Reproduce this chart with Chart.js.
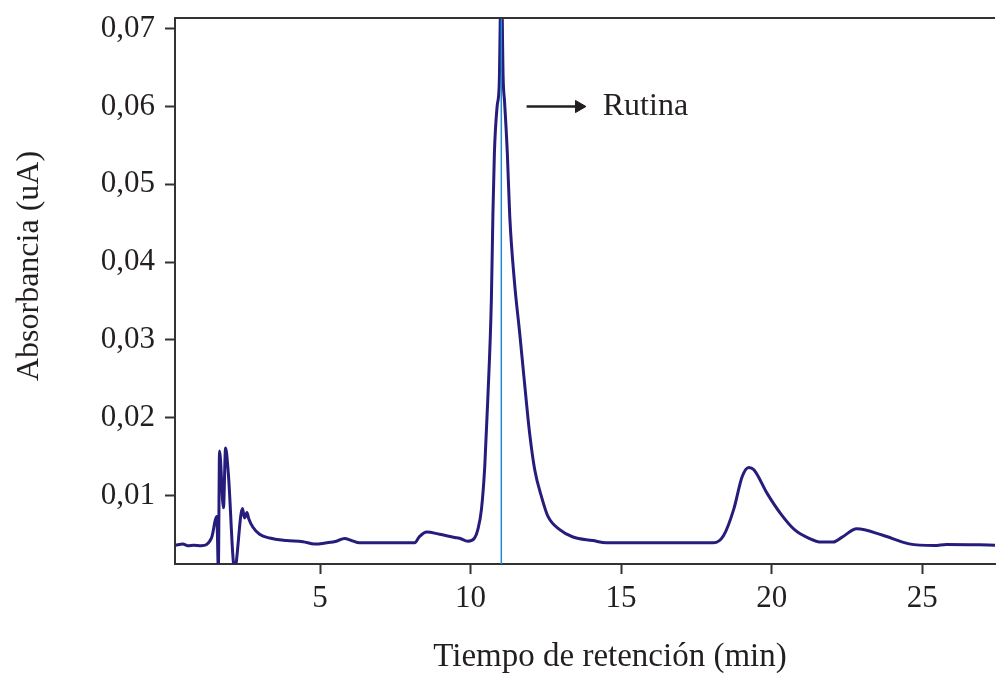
<!DOCTYPE html>
<html>
<head>
<meta charset="utf-8">
<script src="https://cdn.jsdelivr.net/npm/chart.js@4.4.1/dist/chart.umd.min.js"></script>
<style>
  html, body { margin: 0; padding: 0; background: #fff; }
  canvas { display: block; }
</style>
</head>
<body>
<canvas id="chroma" width="996" height="673"></canvas>
<script>
// ================= DATA =================
const tiempos = [0.2, 0.44, 0.61, 0.8, 1.05, 1.39, 1.57, 1.62, 1.66, 1.79, 1.86, 1.95, 2.16, 2.42, 2.49, 2.57, 2.63, 2.77, 2.99, 3.32, 3.88, 4.43, 4.82, 5.21, 5.54, 5.81, 6.04, 6.31, 6.64, 8.14, 8.3, 8.54, 8.97, 9.47, 9.63, 9.91, 10.13, 10.24, 10.36, 10.47, 10.57, 10.69, 10.74, 10.79, 10.88, 10.95, 11.02, 11.08, 11.13, 11.22, 11.30, 11.46, 11.63, 11.79, 11.96, 12.13, 12.35, 12.57, 12.96, 13.4, 14.06, 14.51, 18.07, 18.4, 18.74, 19.02, 19.24, 19.41, 19.86, 20.31, 20.76, 21.21, 21.65, 22.05, 22.33, 22.83, 23.67, 24.57, 25.41, 25.8, 27.45];
const absorbancia = [0.0036, 0.00375, 0.00354, 0.0036, 0.00354, 0.0045, 0.0073, 0.0005, 0.0157, 0.0084, 0.0161, 0.0129, 0.0005, 0.0083, 0.0071, 0.0078, 0.0070, 0.0059, 0.0050, 0.00452, 0.0042, 0.00405, 0.00375, 0.0039, 0.0041, 0.00447, 0.0042, 0.0039, 0.0039, 0.0039, 0.0047, 0.0053, 0.0050, 0.0046, 0.0045, 0.0041, 0.0045, 0.0056, 0.0082, 0.0137, 0.0223, 0.0352, 0.046, 0.054, 0.060, 0.0628, 0.078, 0.0638, 0.0605, 0.054, 0.0459, 0.0373, 0.0309, 0.0245, 0.018, 0.0133, 0.0099, 0.0073, 0.0056, 0.00465, 0.0042, 0.0039, 0.0039, 0.0048, 0.0082, 0.0124, 0.0136, 0.0133, 0.0102, 0.0076, 0.0056, 0.00455, 0.0040, 0.0040, 0.0046, 0.0057, 0.0049, 0.00377, 0.00356, 0.0037, 0.0036];

const xTicks = [5, 10, 15, 20, 25];
const yTicks = [0.01, 0.02, 0.03, 0.04, 0.05, 0.06, 0.07];
const xMin = 0.18, xMax = 27.42;
const yMin = 0.00118, yMax = 0.07138;

const rutinaT = 11.02;            // marker line
const flechaT = [11.86, 13.6];    // arrow start / end
const flechaY = 0.06;
const etiqueta = "Rutina";

// ================= STYLE =================
const INK = "#231f20";
const SERIF = "'Liberation Serif', 'Times New Roman', serif";

// ================= PLUGIN: frame, titles, label =================
const extras = {
  id: "extras",
  afterDraw(chart) {
    const { ctx, chartArea, scales } = chart;
    ctx.save();
    // top frame line
    ctx.strokeStyle = "#333";
    ctx.lineWidth = 2;
    ctx.beginPath();
    ctx.moveTo(chartArea.left - 1, chartArea.top);
    ctx.lineTo(chartArea.right, chartArea.top);
    ctx.stroke();

    ctx.fillStyle = INK;
    ctx.font = "32px " + SERIF;
    ctx.textBaseline = "middle";
    // Rutina label
    ctx.textAlign = "left";
    ctx.fillText(etiqueta, scales.x.getPixelForValue(14.39), scales.y.getPixelForValue(flechaY));
    // x title
    ctx.textAlign = "center";
    ctx.font = "33px " + SERIF;
    ctx.fillText("Tiempo de retención (min)", 610, 657);
    // y title
    ctx.font = "32px " + SERIF;
    ctx.translate(30, 266);
    ctx.rotate(-Math.PI / 2);
    ctx.fillText("Absorbancia (uA)", 0, 0);
    ctx.restore();
  }
};

// ================= CHART =================
const ctx = document.getElementById("chroma").getContext("2d");

const chart = new Chart(ctx, {
  type: "line",
  data: {
    datasets: [
      {
        data: tiempos.map((t, i) => ({ x: t, y: absorbancia[i] })),
        borderColor: "#261c7c",
        borderWidth: 3,
        pointRadius: 0,
        cubicInterpolationMode: "monotone"
      },
      {
        // retention marker, drawn on top of the trace
        data: [{ x: rutinaT, y: yMin }, { x: rutinaT, y: yMax }],
        borderColor: "#1f8ad0",
        borderWidth: 1.5,
        pointRadius: 0,
        order: -1
      },
      {
        // arrow: head sits on the middle point so it does not add layout padding
        data: [{ x: flechaT[0], y: flechaY }, { x: flechaT[1], y: flechaY }, { x: flechaT[1], y: flechaY }],
        borderColor: INK,
        borderWidth: 2.5,
        pointRadius: [0, 7, 0],
        pointStyle: "triangle",
        pointRotation: 90,
        pointBackgroundColor: INK,
        pointBorderColor: INK,
        pointBorderWidth: 1
      }
    ]
  },
  options: {
    responsive: false,
    animation: false,
    layout: { padding: { top: 18, right: 1, left: 0, bottom: 0 } },
    plugins: { legend: { display: false }, tooltip: { enabled: false } },
    scales: {
      x: {
        type: "linear",
        min: xMin,
        max: xMax,
        afterBuildTicks: (s) => { s.ticks = xTicks.map(v => ({ value: v })); },
        afterFit: (s) => { s.height = 109; s.paddingLeft = 0; s.paddingRight = 0; },
        grid: { drawOnChartArea: false, drawTicks: true, tickLength: 10, tickWidth: 2, tickColor: "#333" },
        border: { display: true, color: "#333", width: 2 },
        ticks: {
          color: INK,
          padding: 6,
          maxRotation: 0,
          font: { family: SERIF, size: 31 }
        }
      },
      y: {
        min: yMin,
        max: yMax,
        afterBuildTicks: (s) => { s.ticks = yTicks.map(v => ({ value: v })); },
        afterFit: (s) => { s.width = 175; s.paddingTop = 0; s.paddingBottom = 0; },
        grid: { drawOnChartArea: false, drawTicks: true, tickLength: 10, tickWidth: 2, tickColor: "#333" },
        border: { display: true, color: "#333", width: 2 },
        ticks: {
          color: INK,
          padding: 10,
          font: { family: SERIF, size: 31 },
          callback: (v) => v.toFixed(2).replace(".", ",")
        }
      }
    }
  },
  plugins: [extras]
});
</script>
</body>
</html>
